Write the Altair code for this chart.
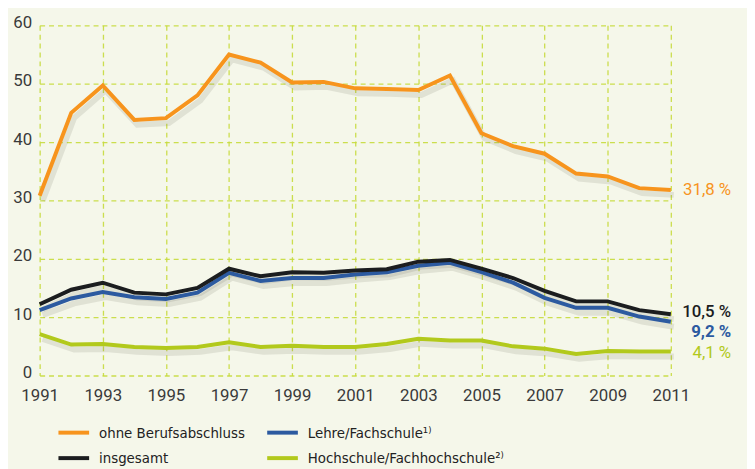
import altair as alt
import pandas as pd

years = list(range(1991, 2012))
ohne = [30.8, 45.0, 49.7, 43.8, 44.1, 48.0, 55.0, 53.6, 50.2, 50.3, 49.2,
        49.1, 48.9, 51.4, 41.5, 39.3, 38.0, 34.6, 34.1, 32.1, 31.8]
insgesamt = [12.2, 14.7, 15.9, 14.2, 13.9, 15.0, 18.3, 17.0, 17.7, 17.6, 18.0,
             18.2, 19.5, 19.8, 18.3, 16.7, 14.5, 12.7, 12.7, 11.2, 10.5]
lehre = [11.2, 13.2, 14.3, 13.4, 13.1, 14.2, 17.6, 16.2, 16.7, 16.7, 17.3,
         17.7, 18.8, 19.3, 17.7, 15.9, 13.3, 11.6, 11.6, 10.1, 9.2]
hoch = [7.1, 5.3, 5.4, 4.9, 4.7, 4.9, 5.7, 4.9, 5.1, 4.9, 4.9,
        5.4, 6.3, 6.0, 6.0, 5.0, 4.6, 3.7, 4.2, 4.1, 4.1]

# legend order (filled column by column): ohne, insgesamt | Lehre, Hochschule
names = ["ohne Berufsabschluss", "insgesamt", "Lehre/Fachschule\u00b9\u207e",
         "Hochschule/Fachhochschule\u00b2\u207e"]
colors = ["#f7941d", "#1b1d1f", "#2c5aa0", "#b2c91c"]
end_labels = ["31,8\u00a0%", "10,5\u00a0%", "9,2\u00a0%", "4,1\u00a0%"]
series_values = [ohne, insgesamt, lehre, hoch]

rows = []
for n, vals in zip(names, series_values):
    for y, v in zip(years, vals):
        rows.append({"year": y, "value": v, "series": n})
df = pd.DataFrame(rows)

lab_df = pd.DataFrame({"series": names, "year": [years[-1]] * 4,
                       "value": [v[-1] for v in series_values],
                       "label": end_labels})

x_enc = alt.X("year:Q", scale=alt.Scale(domain=[1991, 2011], nice=False),
              axis=alt.Axis(values=years, format="d", title=None,
                            labelExpr="datum.value % 2 == 1 ? datum.label : ''",
                            grid=True, ticks=False, domain=False,
                            labelFlush=False, labelOverlap=False,
                            labelPadding=12, labelFontSize=17,
                            labelColor="#3a3a3a", labelFont="Roboto"))
y_enc = alt.Y("value:Q", scale=alt.Scale(domain=[0, 60], nice=False),
              axis=alt.Axis(values=list(range(0, 61, 5)), title=None,
                            labelExpr="datum.value % 10 == 0 ? datum.label : ''",
                            grid=True, ticks=False, domain=False,
                            labelFlush=False, labelOverlap=False,
                            labelPadding=8, labelFontSize=17, labelOffset=-3,
                            labelColor="#3a3a3a", labelFont="Roboto"))

color_enc = alt.Color("series:N",
                      scale=alt.Scale(domain=names, range=colors),
                      legend=alt.Legend(title=None, orient="none",
                                        legendX=17, legendY=394, columns=2,
                                        symbolType="stroke", symbolSize=961,
                                        symbolStrokeWidth=4,
                                        labelFont="DejaVu Sans Condensed",
                                        labelFontSize=15, labelColor="#222222",
                                        labelLimit=400,
                                        columnPadding=14, rowPadding=-4,
                                        labelOffset=8, padding=0))

base = alt.Chart(df)

shadow = base.mark_line(color="#555544", opacity=0.13, strokeWidth=6,
                        xOffset=3, yOffset=5).encode(
    x=x_enc, y=y_enc, detail="series:N")

draw_order = [names[3], names[0], names[2], names[1]]
lines = []
for n in draw_order:
    lines.append(base.transform_filter(alt.datum.series == n)
                 .mark_line(strokeWidth=4, strokeJoin="miter")
                 .encode(x=x_enc, y=y_enc, color=color_enc))

dys = {names[0]: 0, names[1]: -2, names[2]: 10, names[3]: 1}
weights = {names[0]: "normal", names[1]: 500, names[2]: "bold", names[3]: "normal"}
texts = []
for n, c in zip(names, colors):
    texts.append(alt.Chart(lab_df).transform_filter(alt.datum.series == n)
                 .mark_text(align="right", baseline="middle", dx=61, dy=dys[n],
                            fontSize=17, font="Roboto", fontWeight=weights[n],
                            color=c)
                 .encode(x=alt.X("year:Q"), y=alt.Y("value:Q"), text="label:N"))

chart = alt.layer(shadow, *lines, *texts).properties(
    width=638, height=354,
    autosize=alt.AutoSizeParams(type="none"),
    padding={"left": 32, "top": 15, "right": 77, "bottom": 92},
    background="#f5f7ea",
).configure_view(stroke=None).configure_axis(
    gridColor="#c6da3c", gridDash=[5, 4], gridWidth=1.3, gridOpacity=0.9
)

chart.save("out.html", embed_options={"renderer": "svg", "actions": False})
